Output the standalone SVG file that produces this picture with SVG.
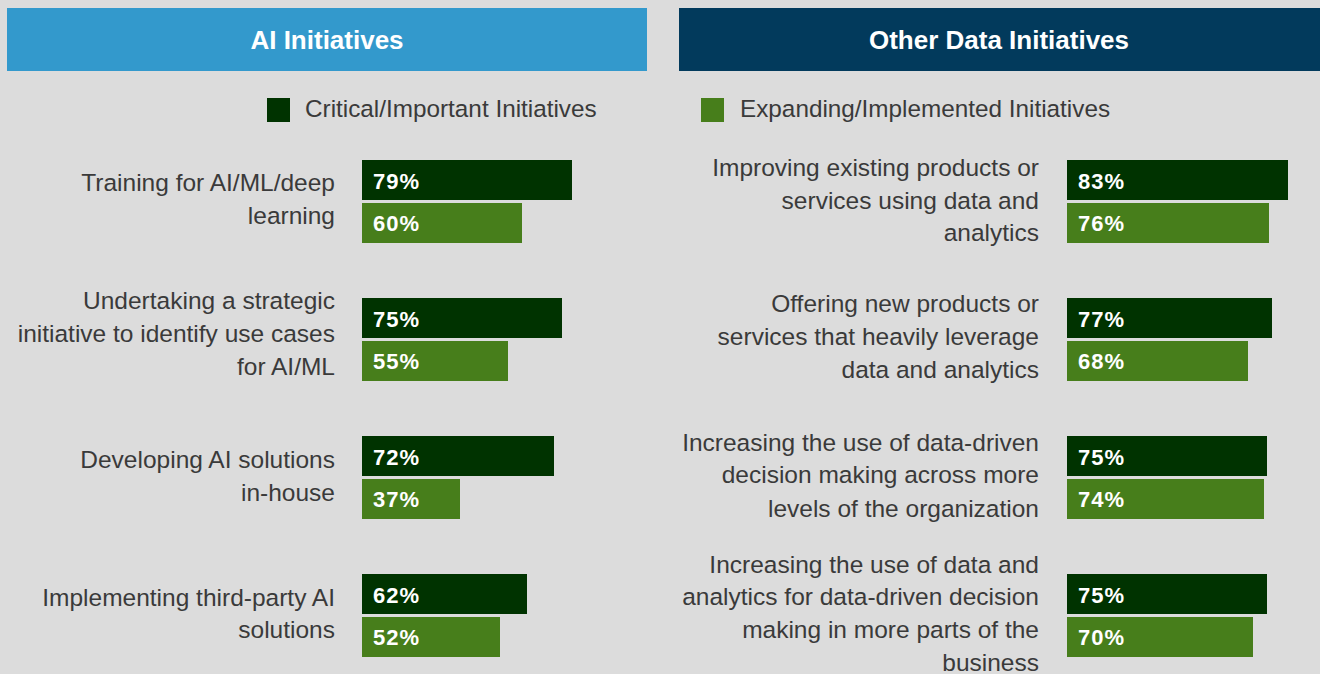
<svg xmlns="http://www.w3.org/2000/svg" width="1320" height="674" viewBox="0 0 1320 674">
<style>
.bg{fill:#DCDCDC}
.hdr{font-family:"Liberation Sans",Arial,sans-serif;font-size:26px;font-weight:bold;fill:#FFFFFF;text-anchor:middle}
.leg{font-family:"Liberation Sans",Arial,sans-serif;font-size:24.3px;fill:#3A3A3A}
.lbl{font-family:"Liberation Sans",Arial,sans-serif;font-size:24.5px;fill:#3A3A3A;text-anchor:end}
.val{font-family:"Liberation Sans",Arial,sans-serif;font-size:22px;font-weight:bold;fill:#FFFFFF;letter-spacing:1px}
.dk{fill:#003300}
.gr{fill:#477E1B}
</style>
<rect class="bg" x="0" y="0" width="1320" height="674"/>
<g id="header-ai">
<rect x="7" y="8" width="640" height="63" fill="#3399CC"/>
<text class="hdr" x="327" y="49">AI Initiatives</text>
</g>
<g id="header-other">
<rect x="679" y="8" width="641" height="63" fill="#023A5C"/>
<text class="hdr" x="999" y="49">Other Data Initiatives</text>
</g>
<g id="legend-critical">
<rect class="dk" x="267" y="98" width="23" height="24"/>
<text class="leg" x="305" y="117">Critical/Important Initiatives</text>
</g>
<g id="legend-expanding">
<rect class="gr" x="701" y="98" width="23" height="24"/>
<text class="leg" x="740" y="117">Expanding/Implemented Initiatives</text>
</g>
<g id="ai-1">
<text class="lbl" x="335" y="191">Training for AI/ML/deep</text>
<text class="lbl" x="335" y="224">learning</text>
<rect class="dk" x="362" y="160" width="210" height="40"/>
<rect class="gr" x="362" y="203" width="160" height="40"/>
<text class="val" x="373" y="189">79%</text>
<text class="val" x="373" y="231">60%</text>
</g>
<g id="ai-2">
<text class="lbl" x="335" y="309">Undertaking a strategic</text>
<text class="lbl" x="335" y="342">initiative to identify use cases</text>
<text class="lbl" x="335" y="375">for AI/ML</text>
<rect class="dk" x="362" y="298" width="200" height="40"/>
<rect class="gr" x="362" y="341" width="146" height="40"/>
<text class="val" x="373" y="327">75%</text>
<text class="val" x="373" y="369">55%</text>
</g>
<g id="ai-3">
<text class="lbl" x="335" y="468">Developing AI solutions</text>
<text class="lbl" x="335" y="501">in-house</text>
<rect class="dk" x="362" y="436" width="192" height="40"/>
<rect class="gr" x="362" y="479" width="98" height="40"/>
<text class="val" x="373" y="465">72%</text>
<text class="val" x="373" y="507">37%</text>
</g>
<g id="ai-4">
<text class="lbl" x="335" y="606">Implementing third-party AI</text>
<text class="lbl" x="335" y="638">solutions</text>
<rect class="dk" x="362" y="574" width="165" height="40"/>
<rect class="gr" x="362" y="617" width="138" height="40"/>
<text class="val" x="373" y="603">62%</text>
<text class="val" x="373" y="645">52%</text>
</g>
<g id="other-1">
<text class="lbl" x="1039" y="176">Improving existing products or</text>
<text class="lbl" x="1039" y="209">services using data and</text>
<text class="lbl" x="1039" y="241">analytics</text>
<rect class="dk" x="1067" y="160" width="221" height="40"/>
<rect class="gr" x="1067" y="203" width="202" height="40"/>
<text class="val" x="1078" y="189">83%</text>
<text class="val" x="1078" y="231">76%</text>
</g>
<g id="other-2">
<text class="lbl" x="1039" y="312">Offering new products or</text>
<text class="lbl" x="1039" y="345">services that heavily leverage</text>
<text class="lbl" x="1039" y="378">data and analytics</text>
<rect class="dk" x="1067" y="298" width="205" height="40"/>
<rect class="gr" x="1067" y="341" width="181" height="40"/>
<text class="val" x="1078" y="327">77%</text>
<text class="val" x="1078" y="369">68%</text>
</g>
<g id="other-3">
<text class="lbl" x="1039" y="451">Increasing the use of data-driven</text>
<text class="lbl" x="1039" y="483">decision making across more</text>
<text class="lbl" x="1039" y="517">levels of the organization</text>
<rect class="dk" x="1067" y="436" width="200" height="40"/>
<rect class="gr" x="1067" y="479" width="197" height="40"/>
<text class="val" x="1078" y="465">75%</text>
<text class="val" x="1078" y="507">74%</text>
</g>
<g id="other-4">
<text class="lbl" x="1039" y="573">Increasing the use of data and</text>
<text class="lbl" x="1039" y="605">analytics for data-driven decision</text>
<text class="lbl" x="1039" y="638">making in more parts of the</text>
<text class="lbl" x="1039" y="671">business</text>
<rect class="dk" x="1067" y="574" width="200" height="40"/>
<rect class="gr" x="1067" y="617" width="186" height="40"/>
<text class="val" x="1078" y="603">75%</text>
<text class="val" x="1078" y="645">70%</text>
</g>
<g id="connectors"/>
</svg>
